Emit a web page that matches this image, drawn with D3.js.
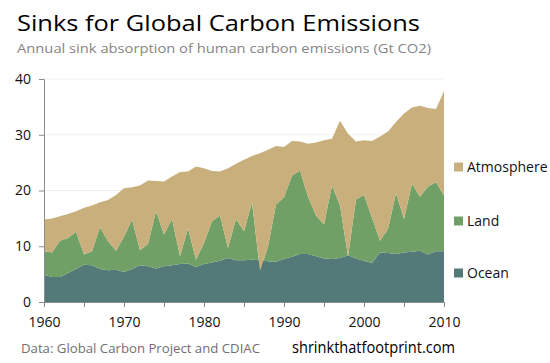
<!DOCTYPE html>
<html>
<head>
<meta charset="utf-8">
<script src="https://cdn.jsdelivr.net/npm/d3@7"></script>
<style>
  body { margin: 0; background: #fff; }
  text { font-family: "Open Sans", "Noto Sans", sans-serif; }
</style>
</head>
<body>
<script>
// years 1960..2010
const years = d3.range(1960, 2011);

// sink absorption, Gt CO2
const ocean = [4.9, 4.5, 4.5, 5.2, 5.9, 6.7, 6.6, 5.9, 5.7, 5.8,
               5.4, 5.9, 6.6, 6.4, 6.0, 6.4, 6.6, 6.8, 6.9, 6.3,
               6.8, 7.1, 7.4, 7.9, 7.5, 7.5, 7.6, 7.5, 7.3, 7.2,
               7.7, 8.1, 8.6, 8.6, 8.2, 7.8, 7.7, 7.9, 8.4, 7.8,
               7.4, 7.0, 8.9, 8.8, 8.6, 8.9, 9.0, 9.2, 8.5, 9.1,
               9.1];
const land = [4.2, 4.4, 6.5, 6.3, 6.7, 1.8, 2.5, 7.5, 5.2, 3.4,
              6.3, 8.9, 2.7, 4.0, 10.3, 5.7, 8.3, 1.4, 6.3, 1.3,
              3.8, 7.4, 8.1, 1.8, 7.4, 5.2, 10.3, -1.9, 2.6, 10.3,
              11.1, 14.6, 15.0, 10.3, 7.3, 6.1, 13.2, 9.4, -0.2, 10.6,
              11.8, 8.1, 2.1, 4.3, 10.9, 6.0, 12.2, 9.7, 12.2, 12.4,
              10.0];
const atmosphere = [5.7, 6.1, 4.4, 4.3, 3.7, 8.4, 8.2, 4.5, 7.4, 10.0,
                    8.7, 5.8, 11.6, 11.4, 5.4, 9.5, 7.6, 15.1, 10.2, 16.7,
                    13.4, 9.0, 7.9, 14.3, 9.9, 12.8, 8.3, 21.1, 17.4, 10.5,
                    9.0, 6.2, 5.2, 9.5, 13.1, 15.1, 8.4, 15.2, 22.0, 10.4,
                    9.8, 13.8, 18.7, 17.5, 12.8, 18.9, 13.7, 16.3, 14.1, 13.1,
                    18.7];

const seriesNames = ['Ocean', 'Land', 'Atmosphere'];
const colors = {Ocean: '#537a79', Land: '#70a066', Atmosphere: '#c8af7c'};
const yTicks = [0, 10, 20, 30, 40];
const xLabels = [1960, 1970, 1980, 1990, 2000, 2010];

const table = years.map((y, i) => ({year: y, Ocean: ocean[i], Land: land[i], Atmosphere: atmosphere[i]}));

const width = 550;
const height = 363;
const margin = ({top: 79, right: 106, bottom: 61, left: 44});

const xScale = d3.scaleLinear()
                 .domain([1960, 2010])
                 .range([margin.left, width - margin.right]);

const yScale = d3.scaleLinear()
                 .domain([0, 40])
                 .range([height - margin.bottom, margin.top]);

const svg = d3.select('body')
              .append('svg')
              .attr('width', width)
              .attr('height', height);

// faint gridlines
svg.append('g')
   .selectAll('line')
   .data(yTicks.slice(1))
   .join('line')
   .attr('x1', margin.left)
   .attr('x2', width - margin.right)
   .attr('y1', d => yScale(d))
   .attr('y2', d => yScale(d))
   .attr('stroke', '#f0f0f0');

// stacked areas
const stack = d3.stack().keys(seriesNames);
const layers = stack(table);

const area = d3.area()
               .x(d => xScale(d.data.year))
               .y0(d => yScale(d[0]))
               .y1(d => yScale(d[1]));

svg.append('g')
   .selectAll('path')
   .data(layers)
   .join('path')
   .attr('d', area)
   .attr('fill', d => colors[d.key]);

// Y axis
const yAxis = d3.axisLeft(yScale).tickValues(yTicks).tickSize(5).tickPadding(8);
const yg = svg.append('g')
  .attr('transform', `translate(${margin.left},0)`)
  .call(yAxis);
yg.select('.domain').attr('stroke', '#8c8c8c');
yg.selectAll('.tick line').attr('stroke', '#8c8c8c');
yg.selectAll('text').attr('font-size', 14).attr('fill', '#111');

// X axis
const xAxis = d3.axisBottom(xScale)
                .tickValues(d3.range(1960, 2011, 5))
                .tickSize(5)
                .tickPadding(10)
                .tickFormat(d => xLabels.includes(d) ? d : '');
const xg = svg.append('g')
  .attr('transform', `translate(0,${height - margin.bottom})`)
  .call(xAxis);
xg.select('.domain').attr('stroke', '#8c8c8c');
xg.selectAll('.tick line').attr('stroke', '#8c8c8c');
xg.selectAll('text').attr('font-size', 14).attr('fill', '#111');

// legend
const legendY = {Atmosphere: 167, Land: 221, Ocean: 273};
const legend = svg.append('g')
  .selectAll('g')
  .data(seriesNames)
  .join('g')
  .attr('transform', d => `translate(454,${legendY[d]})`);
legend.append('rect')
  .attr('x', 0).attr('y', -4.5)
  .attr('width', 9).attr('height', 9)
  .attr('fill', d => colors[d]);
legend.append('text')
  .attr('x', 13).attr('y', 5)
  .attr('font-size', 14)
  .attr('fill', '#111')
  .text(d => d);

// titles
svg.append('text')
  .attr('x', 17).attr('y', 30.5)
  .attr('font-size', 22)
  .attr('fill', '#000')
  .attr('textLength', 403).attr('lengthAdjust', 'spacingAndGlyphs')
  .text('Sinks for Global Carbon Emissions');

svg.append('text')
  .attr('x', 17).attr('y', 53)
  .attr('font-size', 13.5)
  .attr('fill', '#858585')
  .attr('textLength', 414).attr('lengthAdjust', 'spacingAndGlyphs')
  .text('Annual sink absorption of human carbon emissions (Gt CO2)');

// footer
svg.append('text')
  .attr('x', 21).attr('y', 353)
  .attr('font-size', 13.5)
  .attr('fill', '#707070')
  .attr('textLength', 239).attr('lengthAdjust', 'spacingAndGlyphs')
  .text('Data: Global Carbon Project and CDIAC');

svg.append('text')
  .attr('x', 292).attr('y', 353)
  .attr('font-size', 15.5)
  .attr('fill', '#000')
  .attr('textLength', 163).attr('lengthAdjust', 'spacingAndGlyphs')
  .text('shrinkthatfootprint.com');
</script>
</body>
</html>
